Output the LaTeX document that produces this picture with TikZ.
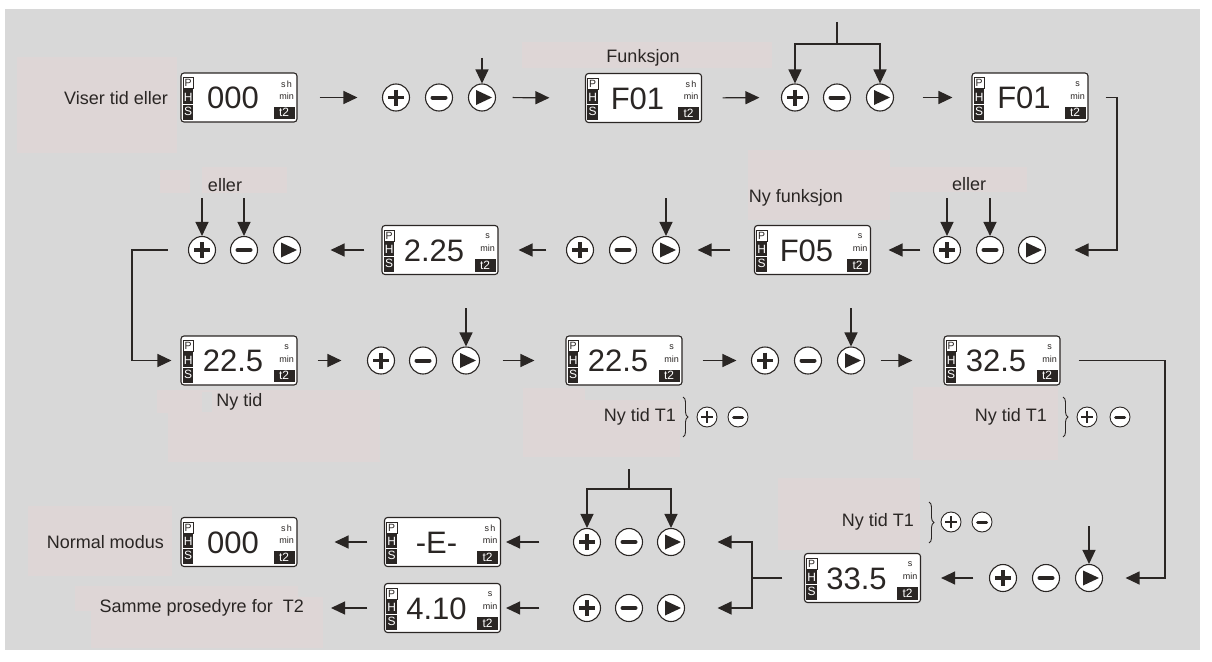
\documentclass[tikz,border=0pt]{standalone}
\usepackage{fontspec}
\setmainfont{Liberation Sans}
\usetikzlibrary{arrows.meta,calc,decorations.pathreplacing}
\definecolor{bgc}{RGB}{216,216,216}
\definecolor{pinkc}{RGB}{222,214,214}
\definecolor{ink}{RGB}{42,38,36}
\tikzset{
  lbl/.style={font=\fontsize{18}{21}\selectfont, text=ink, inner sep=0pt},
  lcd/.style={draw=ink, line width=1.1pt, fill=white, rounded corners=3pt, minimum width=116pt, minimum height=49pt, inner sep=0pt},
  pbox/.style={draw=ink, line width=0.8pt, fill=white, minimum width=10.5pt, minimum height=11pt, inner sep=0pt, font=\fontsize{10.5}{10.5}\selectfont, text=ink},
  wlet/.style={text=white, inner sep=0pt, font=\fontsize{12}{12}\selectfont},
  unit/.style={text=ink, inner sep=0pt, font=\fontsize{9}{9}\selectfont},
  num/.style={text=ink, inner sep=0pt, anchor=base, font=\fontsize{31}{31}\selectfont},
  btn/.style={circle, draw=ink, line width=1.1pt, fill=white, minimum size=27pt, inner sep=0pt},
  sbtn/.style={circle, draw=ink, line width=0.9pt, fill=white, minimum size=20pt, inner sep=0pt},
  btnplus/.style={btn, path picture={\draw[ink, line width=3.4pt]
      ($(path picture bounding box.center)+(-8,0)$) -- ($(path picture bounding box.center)+(8,0)$)
      ($(path picture bounding box.center)+(0,-8)$) -- ($(path picture bounding box.center)+(0,8)$);}},
  btnminus/.style={btn, path picture={\draw[ink, line width=4pt, line cap=round]
      ($(path picture bounding box.center)+(-6.5,0)$) -- ($(path picture bounding box.center)+(6.5,0)$);}},
  btnplay/.style={btn, path picture={\fill[ink]
      ($(path picture bounding box.center)+(-6,-7.5)$) -- ($(path picture bounding box.center)+(10,0)$) -- ($(path picture bounding box.center)+(-6,7.5)$) -- cycle;}},
  sbtnplus/.style={sbtn, path picture={\draw[ink, line width=2.2pt]
      ($(path picture bounding box.center)+(-6,0)$) -- ($(path picture bounding box.center)+(6,0)$)
      ($(path picture bounding box.center)+(0,-6)$) -- ($(path picture bounding box.center)+(0,6)$);}},
  sbtnminus/.style={sbtn, path picture={\draw[ink, line width=3pt, line cap=round]
      ($(path picture bounding box.center)+(-4.5,0)$) -- ($(path picture bounding box.center)+(4.5,0)$);}},
  ln/.style={draw=ink, line width=1.2pt},
  arr/.style={ln, -{Triangle[length=14pt,width=13pt]}},
  brc/.style={draw=ink, line width=0.9pt, decorate, decoration={brace, amplitude=5pt}},
}
\newcommand{\drawlcd}[4]{%
  \node[lcd] (#1) at (#2) {};
  \node[pbox] (#1-p) at ($(#1.north west)+(7.75,10.5)$) {P};
  \fill[ink] ($(#1.north west)+(2.5,16.5)$) rectangle ($(#1.south west)+(13,-3)$);
  \draw[white, line width=0.5pt] ($(#1.north west)+(2.5,31.5)$) -- ($(#1.north west)+(13,31.5)$);
  \node[wlet] (#1-h) at ($(#1.north west)+(7.75,24.5)$) {H};
  \node[wlet] (#1-s) at ($(#1.north west)+(7.75,38.5)$) {S};
  \node[num] (#1-v) at ($(#1.center)+(-6,11)$) {#3};
  \node[unit] (#1-u) at ($(#1.north east)+(-11,11.5)$) {#4};
  \node[unit] (#1-m) at ($(#1.north east)+(-11,23.5)$) {min};
  \fill[ink] ($(#1.south east)+(-24,-16)$) rectangle ($(#1.south east)+(-3,-3.5)$);
  \node[wlet] (#1-t) at ($(#1.south east)+(-13.5,-9.75)$) {t2};
}
\begin{document}
\begin{tikzpicture}[x=1pt,y=-1pt]
\useasboundingbox (0,0) rectangle (1212,661);
\fill[bgc] (5,9) rectangle (1200,650);
% faint text-box backgrounds
\fill[pinkc] (17,57) rectangle (177,153);
\fill[pinkc] (522,42) rectangle (772,68);
\fill[pinkc] (160,170) rectangle (190,193);
\fill[pinkc] (202,167) rectangle (287,193);
\fill[pinkc] (748,150) rectangle (890,220);
\fill[pinkc] (878,167) rectangle (1027,192);
\fill[pinkc] (168,390) rectangle (380,462);
\fill[pinkc] (157,390) rectangle (168,413);
\fill[bgc] (202,392) rectangle (212,412);
\fill[pinkc] (523,388) rectangle (585,457);
\fill[pinkc] (585,400) rectangle (680,457);
\fill[pinkc] (913,387) rectangle (1058,460);
\fill[pinkc] (778,478) rectangle (920,550);
\fill[pinkc] (28,506) rectangle (172,576);
\fill[pinkc] (75,586) rectangle (298,611);
\fill[pinkc] (91,597) rectangle (323,648);

% displays
\drawlcd{d1}{239,97.5}{000}{s\hspace{1.2pt}h}
\drawlcd{d2}{643.5,98}{F01}{s\hspace{1.2pt}h}
\drawlcd{d3}{1030,97.5}{F01}{s}
\drawlcd{d4}{440,250}{2.25}{s}
\drawlcd{d5}{812.5,250}{F05}{s}
\drawlcd{d6}{239,360.5}{22.5}{s}
\drawlcd{d7}{624,360.5}{22.5}{s}
\drawlcd{d8}{1002,360.5}{32.5}{s}
\drawlcd{d9}{862.5,578}{33.5}{s}
\drawlcd{d10}{442.5,542}{-E-}{s\hspace{1.2pt}h}
\drawlcd{d11}{239,542}{000}{s\hspace{1.2pt}h}
\drawlcd{d12}{442.5,608}{4.10}{s}

% buttons
\node[btnplus] (b1p) at (396,97.5) {}; \node[btnminus] (b1m) at (439,97.5) {}; \node[btnplay] (b1y) at (482,97.5) {};
\node[btnplus] (b2p) at (795,97.5) {}; \node[btnminus] (b2m) at (837,97.5) {}; \node[btnplay] (b2y) at (880,97.5) {};
\node[btnplus] (b3p) at (947,250) {}; \node[btnminus] (b3m) at (990,250) {}; \node[btnplay] (b3y) at (1032,250) {};
\node[btnplus] (b4p) at (580,250) {}; \node[btnminus] (b4m) at (623,250) {}; \node[btnplay] (b4y) at (666,250) {};
\node[btnplus] (b5p) at (202,250) {}; \node[btnminus] (b5m) at (244,250) {}; \node[btnplay] (b5y) at (287,250) {};
\node[btnplus] (b6p) at (381,360.5) {}; \node[btnminus] (b6m) at (423,360.5) {}; \node[btnplay] (b6y) at (466,360.5) {};
\node[btnplus] (b7p) at (765,360.5) {}; \node[btnminus] (b7m) at (808,360.5) {}; \node[btnplay] (b7y) at (851,360.5) {};
\node[btnplus] (b8p) at (1003,578) {}; \node[btnminus] (b8m) at (1046,578) {}; \node[btnplay] (b8y) at (1089,578) {};
\node[btnplus] (b9p) at (587,542) {}; \node[btnminus] (b9m) at (629,542) {}; \node[btnplay] (b9y) at (671,542) {};
\node[btnplus] (b10p) at (587,608) {}; \node[btnminus] (b10m) at (629,608) {}; \node[btnplay] (b10y) at (671,608) {};
\node[sbtnplus] (s1p) at (707,417) {}; \node[sbtnminus] (s1m) at (738,417) {};
\node[sbtnplus] (s2p) at (1087,417) {}; \node[sbtnminus] (s2m) at (1120,417) {};
\node[sbtnplus] (s3p) at (951,522) {}; \node[sbtnminus] (s3m) at (982,522) {};

% labels
\node[lbl, anchor=east] (l1) at (168,98) {Viser tid eller};
\node[lbl] (l2) at (643,58) {Funksjon};
\node[lbl] (l3) at (225,185) {eller};
\node[lbl] (l4) at (969,184) {eller};
\node[lbl] (l5) at (796,198) {Ny funksjon};
\node[lbl] (l6) at (239.5,402) {Ny tid};
\node[lbl, anchor=east] (l7) at (676,417) {Ny tid T1};
\node[lbl, anchor=east] (l8) at (1047,417) {Ny tid T1};
\node[lbl, anchor=east] (l9) at (914,522) {Ny tid T1};
\node[lbl, anchor=east] (l10) at (164,542) {Normal modus};
\node[lbl, anchor=east] (l11) at (304,608) {Samme prosedyre for\ \ T2};

% braces
\draw[brc] (683,397) -- (683,437);
\draw[brc] (1063,397) -- (1063,437);
\draw[brc] (929,502) -- (929,543);

% row 1
\draw[arr, shorten <=22pt, shorten >=24.5pt] (d1.east) -- (b1p.west);
\draw[arr, shorten <=16.5pt, shorten >=35.5pt] (b1y.east) -- (d2.west);
\draw[arr, shorten <=20.5pt, shorten >=21.5pt] (d2.east) -- (b2p.west);
\draw[arr, shorten <=28.5pt, shorten >=19pt] (b2y.east) -- (d3.west);
\coordinate (t1) at (482,58);
\draw[arr] (t1) -- (b1y.north);
\coordinate (t2) at (837,22);
\coordinate (t2j) at (837,44);
\draw[ln] (t2) -- (t2j);
\draw[arr] (t2j) -| (b2p.north);
\draw[arr] (t2j) -| (b2y.north);
\coordinate (r1) at (1117,97.5);
\draw[arr, shorten >=28.5pt] ([xshift=17pt]d3.east) -- (r1) |- (b3y.east);

% row 2
\coordinate (e1a) at (947,198); \coordinate (e1b) at (990,198);
\draw[arr] (e1a) -- (b3p.north);
\draw[arr] (e1b) -- (b3m.north);
\draw[arr, shorten <=12.5pt, shorten >=17.5pt] (b3p.west) -- (d5.east);
\draw[arr, shorten <=23.5pt, shorten >=17.5pt] (d5.west) -- (b4y.east);
\coordinate (t4) at (666,198);
\draw[arr] (t4) -- (b4y.north);
\draw[arr, shorten <=19.5pt, shorten >=20pt] (b4p.west) -- (d4.east);
\draw[arr, shorten <=17pt, shorten >=29.5pt] (d4.west) -- (b5y.east);
\coordinate (e2a) at (202,198); \coordinate (e2b) at (244,198);
\draw[arr] (e2a) -- (b5p.north);
\draw[arr] (e2b) -- (b5m.north);
\coordinate (r2) at (132,250);
\draw[arr, shorten >=9pt] ([xshift=-20pt]b5p.west) -- (r2) |- (d6.west);

% row 3
\draw[arr, shorten <=20pt, shorten >=25.5pt] (d6.east) -- (b6p.west);
\coordinate (t6) at (466,308);
\draw[arr] (t6) -- (b6y.north);
\draw[arr, shorten <=22.5pt, shorten >=31pt] (b6y.east) -- (d7.west);
\draw[arr, shorten <=20pt, shorten >=14.5pt] (d7.east) -- (b7p.west);
\coordinate (t7) at (851,308);
\draw[arr] (t7) -- (b7y.north);
\draw[arr, shorten <=15.5pt, shorten >=31pt] (b7y.east) -- (d8.west);
\coordinate (r3) at (1165,360.5);
\draw[arr, shorten >=22.5pt] ([xshift=18pt]d8.east) -- (r3) |- (b8y.east);

% row 4
\coordinate (t8) at (1089,526);
\draw[arr] (t8) -- (b8y.north);
\draw[arr, shorten <=15.5pt, shorten >=20pt] (b8p.west) -- (d9.east);
\coordinate (j1) at (752,578);
\draw[ln] ([xshift=-21.5pt]d9.west) -- (j1);
\draw[arr, shorten >=32.5pt] (j1) |- (b9y.east);
\draw[arr, shorten >=32.5pt] (j1) |- (b10y.east);
\coordinate (t9) at (629,469);
\coordinate (t9j) at (629,489);
\draw[ln] (t9) -- (t9j);
\draw[arr] (t9j) -| (b9p.north);
\draw[arr] (t9j) -| (b9y.north);
\draw[arr, shorten <=33.5pt, shorten >=5pt] (b9p.west) -- (d10.east);
\draw[arr, shorten <=16.5pt, shorten >=37pt] (d10.west) -- (d11.east);
\draw[arr, shorten <=33.5pt, shorten >=5pt] (b10p.west) -- (d12.east);
\draw[arr, shorten <=16.5pt, shorten >=27pt] (d12.west) -- (l11.east);
\end{tikzpicture}
\end{document}
